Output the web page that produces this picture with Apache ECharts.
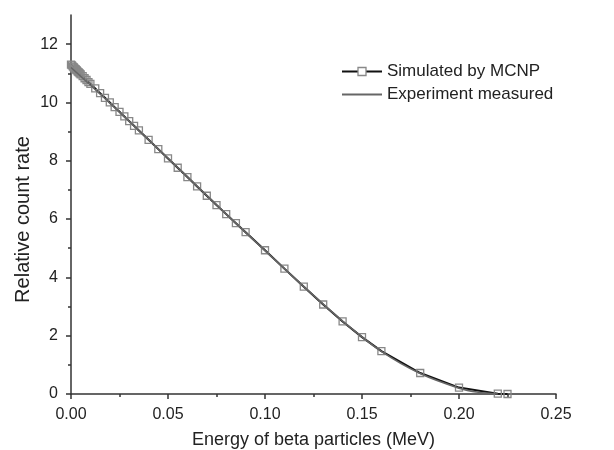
<!DOCTYPE html>
<html>
<head>
<meta charset="utf-8">
<script src="https://cdn.jsdelivr.net/npm/echarts@6/dist/echarts.min.js"></script>
<style>
  html, body { margin: 0; padding: 0; background: #fff; }
  #main { width: 614px; height: 450px; }
</style>
</head>
<body>
<div id="main"></div>
<script>
// simulated points (MeV, relative count rate)
var simX = [0, 0.0005, 0.001, 0.0015, 0.002, 0.0025, 0.003, 0.0035, 0.004, 0.0045, 0.005,
    0.006, 0.007, 0.008, 0.009, 0.01,
    0.0125, 0.015, 0.0175, 0.02, 0.0225, 0.025, 0.0275, 0.03, 0.0325, 0.035,
    0.04, 0.045, 0.05, 0.055, 0.06, 0.065, 0.07, 0.075, 0.08, 0.085, 0.09,
    0.10, 0.11, 0.12, 0.13, 0.14, 0.15, 0.16, 0.18, 0.20, 0.22, 0.225];
var simY = [11.30, 11.27, 11.23, 11.20, 11.16, 11.13, 11.10, 11.06, 11.03, 11.00, 10.96,
    10.90, 10.83, 10.77, 10.70, 10.64,
    10.48, 10.32, 10.16, 10.00, 9.84, 9.68, 9.52, 9.36, 9.20, 9.04,
    8.72, 8.40, 8.08, 7.76, 7.44, 7.12, 6.80, 6.48, 6.17, 5.86, 5.55,
    4.93, 4.30, 3.68, 3.07, 2.49, 1.95, 1.47, 0.72, 0.22, 0.01, 0.0];

// experiment curve
var expX = [0, 0.02, 0.04, 0.06, 0.08, 0.10, 0.12, 0.14, 0.16, 0.18, 0.20, 0.21, 0.22];
var expY = [11.2, 9.98, 8.72, 7.45, 6.17, 4.92, 3.68, 2.50, 1.46, 0.70, 0.20, 0.06, 0.0];

var yMajor = [0, 2, 4, 6, 8, 10, 12];
var yMinor = [1, 3, 5, 7, 9, 11];

function pairs(xs, ys) {
    return xs.map(function (x, i) { return [x, ys[i]]; });
}

var chart = echarts.init(document.getElementById('main'), null, { renderer: 'canvas' });

var axisColor = '#333';
var textColor = '#222';
var font = 'Liberation Sans, Arial, sans-serif';

chart.setOption({
    animation: false,
    backgroundColor: '#fff',
    grid: { left: 71, right: 58, top: 15, bottom: 56, outerBoundsMode: 'none', containLabel: false },
    legend: {
        left: 336,
        top: 58,
        orient: 'vertical',
        itemWidth: 40,
        itemHeight: 10,
        itemGap: 6,
        textStyle: { fontFamily: font, fontSize: 17, color: textColor },
        data: [
            { name: 'Simulated by MCNP', itemStyle: { color: '#fff', borderColor: '#888', borderWidth: 1.3 } },
            { name: 'Experiment measured', itemStyle: { color: 'transparent', borderColor: 'transparent', borderWidth: 0, opacity: 0 } }
        ]
    },
    xAxis: {
        type: 'value',
        min: 0,
        max: 0.25,
        interval: 0.05,
        name: 'Energy of beta particles (MeV)',
        nameLocation: 'middle',
        nameGap: 37,
        nameTextStyle: { fontFamily: font, fontSize: 18, color: textColor },
        axisLine: { lineStyle: { color: axisColor, width: 1.5 } },
        axisTick: { length: 5, lineStyle: { color: axisColor, width: 1.5 } },
        minorTick: { show: true, splitNumber: 2, length: 3, lineStyle: { color: axisColor, width: 1.5 } },
        axisLabel: {
            fontFamily: font, fontSize: 16, color: textColor, margin: 13,
            formatter: function (v) { return v.toFixed(2); }
        },
        splitLine: { show: false }
    },
    yAxis: [{
        type: 'value',
        min: 0,
        max: 13,
        interval: 2,
        name: 'Relative count rate',
        nameLocation: 'middle',
        nameGap: 38,
        nameMoveOverlap: false,
        nameTextStyle: { fontFamily: font, fontSize: 20, color: textColor, padding: [0, 30, 0, 0] },
        axisLine: { show: true, lineStyle: { color: axisColor, width: 1.5 } },
        axisTick: { show: true, length: 5, customValues: yMajor, lineStyle: { color: axisColor, width: 1.5 } },
        axisLabel: { fontFamily: font, fontSize: 16, color: textColor, margin: 13, customValues: yMajor },
        splitLine: { show: false }
    }, {
        type: 'value',
        position: 'left',
        min: 0,
        max: 13,
        axisLine: { show: false },
        axisTick: { show: true, length: 3, customValues: yMinor, lineStyle: { color: axisColor, width: 1.5 } },
        axisLabel: { show: false },
        splitLine: { show: false }
    }],
    series: [{
        name: 'Simulated by MCNP',
        type: 'line',
        data: pairs(simX, simY),
        symbol: 'rect',
        symbolSize: 7,
        showAllSymbol: true,
        lineStyle: { color: '#111', width: 2 },
        itemStyle: { color: 'rgba(255,255,255,0)', borderColor: '#888', borderWidth: 1.3 },
        z: 3
    }, {
        name: 'Experiment measured',
        type: 'line',
        data: pairs(expX, expY),
        smooth: 0.3,
        showSymbol: false,
        symbol: 'none',
        lineStyle: { color: '#666', width: 1.6 },
        itemStyle: { color: '#666' },
        z: 4
    }]
});
</script>
</body>
</html>
